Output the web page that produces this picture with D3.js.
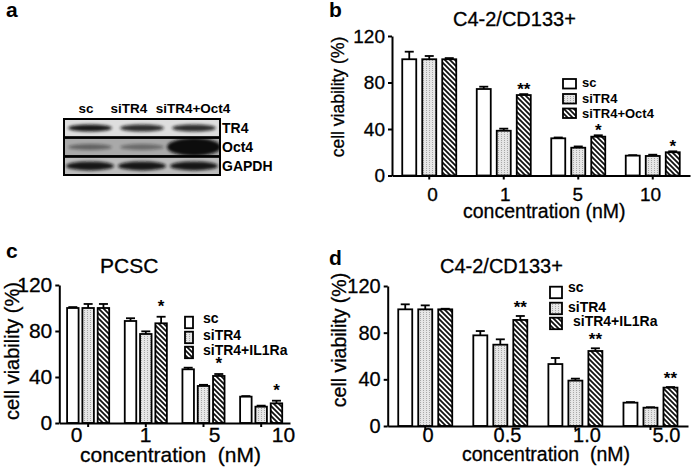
<!DOCTYPE html>
<html lang="en">
<head>
<meta charset="UTF-8">
<title>TR4 knockdown - cell viability</title>
<script src="https://d3js.org/d3.v7.min.js"></script>
<style>
  body { margin: 0; background: #fff; }
  svg { display: block; font-family: Arial, "Liberation Sans", sans-serif; }
  text { fill: #000; stroke: #000; stroke-width: 0.3; }
  .bold { font-weight: bold; stroke-width: 0; }
</style>
</head>
<body>
<svg width="693" height="475"></svg>
<script>
// ---- data ----
var groupsB = ["sc", "siTR4", "siTR4+Oct4"];
var groupsCD = ["sc", "siTR4", "siTR4+IL1Ra"];
var concBC = ["0", "1", "5", "10"];
var concD = ["0", "0.5", "1.0", "5.0"];
var yTicks = [0, 40, 80, 120];

// b: C4-2/CD133+
var bSc = [100, 74.4, 32.0, 17.1];
var bScErr = [6.5, 2.0, 0.7, 0.4];
var bSiTR4 = [100, 38.5, 23.9, 16.8];
var bSiTR4Err = [2.8, 1.8, 1.1, 1.1];
var bOct4 = [100, 69.2, 33.4, 20.0];
var bOct4Err = [1.0, 0.8, 1.2, 0.8];
var bStars = ["", "**", "*", "*"];

// c: PCSC
var cSc = [100, 88.7, 46.7, 22.9];
var cScErr = [0.8, 2.4, 1.4, 0.5];
var cSiTR4 = [100, 77.4, 32.2, 14.2];
var cSiTR4Err = [3.5, 2.3, 1.0, 0.9];
var cIL1Ra = [100, 86.7, 40.9, 17.1];
var cIL1RaErr = [3.5, 5.7, 1.7, 2.3];
var cStars = ["", "*", "*", "*"];

// d: C4-2/CD133+
var dSc = [100, 77.7, 53.1, 20.0];
var dScErr = [4.3, 3.7, 5.2, 0.5];
var dSiTR4 = [100, 69.7, 38.9, 15.7];
var dSiTR4Err = [3.4, 4.6, 1.7, 0.4];
var dIL1Ra = [100, 90.9, 64.3, 32.9];
var dIL1RaErr = [0.5, 3.4, 2.3, 0.5];
var dStars = ["", "**", "**", "**"];

// a: western blot, relative band strength per lane
var blotLanes = ["sc", "siTR4", "siTR4+Oct4"];
var blotRows = ["TR4", "Oct4", "GAPDH"];
var tr4Band = [0.95, 0.85, 0.85];
var oct4Band = [0.45, 0.4, 1.0];
var gapdhBand = [0.95, 0.95, 0.95];

var svg = d3.select("svg");
var defs = svg.append("defs");

// hatch for the rescue group
var hatch = defs.append("pattern").attr("id", "hatch")
    .attr("patternUnits", "userSpaceOnUse").attr("width", 5).attr("height", 5);
hatch.append("rect").attr("width", 5).attr("height", 5).attr("fill", "#fff");
hatch.append("path").attr("d", "M-1,-1L6,6M-1,4L1,6M4,-1L6,1")
    .attr("stroke", "#111").attr("stroke-width", 1.8);

// stippled light gray for siTR4
var dots = defs.append("pattern").attr("id", "dots")
    .attr("patternUnits", "userSpaceOnUse").attr("width", 3).attr("height", 2);
dots.append("rect").attr("width", 3).attr("height", 2).attr("fill", "#e6e6e6");
dots.append("rect").attr("width", 1).attr("height", 1).attr("fill", "#a8a8a8");

defs.append("filter").attr("id", "blur").attr("x", "-30%").attr("y", "-60%")
    .attr("width", "160%").attr("height", "220%")
    .append("feGaussianBlur").attr("stdDeviation", 1.8);

var fills = ["#fff", "url(#dots)", "url(#hatch)"];

function drawPanel(p) {
  var g = svg.append("g");
  var x = d3.scaleBand().domain(p.conc).range([p.x0, p.x1]);
  var y = d3.scaleLinear().domain([0, 120]).range([p.y0, p.y1]);
  var inner = d3.scaleBand().domain(p.groups).range([-1.5 * p.step, 1.5 * p.step]);
  var bw = p.barW;

  var rows = [];
  p.conc.forEach(function(c, i) {
    p.groups.forEach(function(grp, j) {
      rows.push({ c: c, j: j, grp: grp, v: p.values[j][i], e: p.errs[j][i],
                  star: j === 2 ? p.stars[i] : "" });
    });
  });
  function cx(d) { return x(d.c) + x.bandwidth() / 2 + inner(d.grp) + inner.bandwidth() / 2; }

  // error bars (upper only)
  var eb = g.selectAll(".err").data(rows).enter().append("g")
      .attr("stroke", "#000").attr("stroke-width", 1.8);
  eb.append("line").attr("x1", cx).attr("x2", cx)
      .attr("y1", function(d) { return y(d.v); })
      .attr("y2", function(d) { return y(d.v + d.e); });
  eb.append("line")
      .attr("x1", function(d) { return cx(d) - 4.5; })
      .attr("x2", function(d) { return cx(d) + 4.5; })
      .attr("y1", function(d) { return y(d.v + d.e); })
      .attr("y2", function(d) { return y(d.v + d.e); });

  g.selectAll(".bar").data(rows).enter().append("rect")
      .attr("x", function(d) { return cx(d) - bw / 2; })
      .attr("y", function(d) { return y(d.v); })
      .attr("width", bw)
      .attr("height", function(d) { return y(0) - y(d.v); })
      .attr("fill", function(d) { return fills[d.j]; })
      .attr("stroke", "#000").attr("stroke-width", 1.8);

  g.selectAll(".star").data(rows.filter(function(d) { return d.star; })).enter()
      .append("text").attr("class", "bold")
      .attr("x", cx)
      .attr("y", function(d) { return y(d.v + d.e) - p.starGap; })
      .attr("text-anchor", "middle").attr("font-size", 17)
      .text(function(d) { return d.star; });

  // axes
  var ya = g.append("g").attr("transform", "translate(" + p.x0 + ",0)")
      .call(d3.axisLeft(y).tickValues(yTicks).tickSize(4).tickSizeOuter(0).tickPadding(p.yPad));
  var xa = g.append("g").attr("transform", "translate(0," + p.y0 + ")")
      .call(d3.axisBottom(x).tickSize(4).tickSizeOuter(0).tickFormat(""));
  var lab = d3.scalePoint().domain(p.conc).range(p.labRange);
  var xl = g.append("g").attr("transform", "translate(0," + p.y0 + ")")
      .call(d3.axisBottom(lab).tickSize(0).tickPadding(p.xPad));
  xl.select(".domain").remove();
  [ya, xa, xl].forEach(function(a) {
    a.attr("font-family", null).attr("font-size", p.tickFont);
    a.selectAll("path, line").attr("stroke", "#000").attr("stroke-width", 2);
    a.selectAll("text").attr("fill", "#000");
  });

  // titles & labels
  g.append("text").attr("x", p.titleX).attr("y", p.titleY)
      .attr("font-size", p.titleFont).text(p.title);
  g.append("text").attr("x", p.xLabX).attr("y", p.xLabY)
      .attr("font-size", p.labFont).attr("xml:space", "preserve").text(p.xLab);
  g.append("text").attr("transform", "translate(" + p.yLabX + "," + p.yLabY + ") rotate(-90)")
      .attr("text-anchor", "middle").attr("font-size", p.yLabFont).text("cell viability (%)");
  g.append("text").attr("class", "bold").attr("x", p.letterX).attr("y", p.letterY)
      .attr("font-size", 21).text(p.letter);

  // legend
  var lg = g.selectAll(".leg").data(p.groups).enter().append("g");
  lg.append("rect")
      .attr("x", p.legX).attr("y", function(d, i) { return p.legY[i]; })
      .attr("width", p.legW).attr("height", p.legH)
      .attr("fill", function(d, i) { return fills[i]; })
      .attr("stroke", "#000").attr("stroke-width", 1.8);
  lg.append("text").attr("class", "bold")
      .attr("x", function(d, i) { return p.legTX[i]; })
      .attr("y", function(d, i) { return p.legTY[i]; })
      .attr("font-size", p.legFont).text(function(d) { return d; });
}

drawPanel({
  letter: "b", letterX: 329, letterY: 17,
  conc: concBC, groups: groupsB,
  values: [bSc, bSiTR4, bOct4], errs: [bScErr, bSiTR4Err, bOct4Err], stars: bStars,
  x0: 392, x1: 690, y0: 175.5, y1: 36, step: 20, barW: 14, starGap: -1,
  yPad: 3, xPad: 12, tickFont: 19, labRange: [432, 650],
  title: "C4-2/CD133+", titleX: 453, titleY: 26, titleFont: 20,
  xLab: "concentration (nM)", xLabX: 463, xLabY: 218, labFont: 19.5,
  yLabX: 344, yLabY: 97, yLabFont: 17.5,
  legX: 563, legY: [79, 94, 108.5], legW: 13, legH: 9.5,
  legTX: [582, 582, 582], legTY: [87, 103, 118], legFont: 13
});

drawPanel({
  letter: "c", letterX: 6, letterY: 258,
  conc: concBC, groups: groupsCD,
  values: [cSc, cSiTR4, cIL1Ra], errs: [cScErr, cSiTR4Err, cIL1RaErr], stars: cStars,
  x0: 59.3, x1: 290, y0: 423, y1: 285, step: 15.3, barW: 11.5, starGap: 5,
  yPad: 3, xPad: 4, tickFont: 21, labRange: [76, 283],
  title: "PCSC", titleX: 100, titleY: 273, titleFont: 21,
  xLab: "concentration  (nM)", xLabX: 80, xLabY: 462, labFont: 21,
  yLabX: 19, yLabY: 351, yLabFont: 20,
  legX: 185, legY: [316.7, 331.7, 346.7], legW: 8, legH: 11.5,
  legTX: [203, 203, 203], legTY: [323, 340, 355], legFont: 14
});

drawPanel({
  letter: "d", letterX: 329, letterY: 265,
  conc: concD, groups: groupsCD,
  values: [dSc, dSiTR4, dIL1Ra], errs: [dScErr, dSiTR4Err, dIL1RaErr], stars: dStars,
  x0: 387.7, x1: 688, y0: 426, y1: 286, step: 20, barW: 14, starGap: 3,
  yPad: 3, xPad: 2, tickFont: 20, labRange: [427.5, 666],
  title: "C4-2/CD133+", titleX: 440, titleY: 273, titleFont: 20,
  xLab: "concentration  (nM)", xLabX: 462, xLabY: 461, labFont: 19.5,
  yLabX: 346, yLabY: 340, yLabFont: 19.5,
  legX: 550, legY: [286.7, 302.7, 317.7], legW: 12, legH: 11.5,
  legTX: [568, 568, 573], legTY: [292, 311.7, 326], legFont: 14
});

// ---- panel a: western blot ----
var ga = svg.append("g");
ga.append("text").attr("class", "bold").attr("x", 6).attr("y", 17)
    .attr("font-size", 21).text("a");
var lane = d3.scaleBand().domain(blotLanes).range([64, 220]);
var laneLabelShift = [-4, -13, -1];
var rowY = d3.scaleBand().domain(blotRows).range([119, 175]).paddingInner(0.04);
var rowBg = ["#dedede", "#a9a9a9", "#bdbdbd"];
var rowStrength = [tr4Band, oct4Band, gapdhBand];
var bandW = [44, 44, 48], bandH = [7, 6, 9];

ga.selectAll(".lanelab").data(blotLanes).enter().append("text").attr("class", "bold")
    .attr("x", function(d, i) { return lane(d) + lane.bandwidth() / 2 + laneLabelShift[i]; })
    .attr("y", 113).attr("text-anchor", "middle").attr("font-size", 13.5)
    .text(function(d) { return d; });

blotRows.forEach(function(r, ri) {
  var y0 = rowY(r), h = rowY.bandwidth();
  var clipId = "clip" + ri;
  defs.append("clipPath").attr("id", clipId).append("rect")
      .attr("x", 64).attr("y", y0).attr("width", 156).attr("height", h);
  var rg = ga.append("g").attr("clip-path", "url(#" + clipId + ")");
  rg.append("rect").attr("x", 64).attr("y", y0).attr("width", 156).attr("height", h)
      .attr("fill", rowBg[ri]);
  rg.selectAll("ellipse").data(blotLanes).enter().append("ellipse")
      .attr("cx", function(d) { return lane(d) + lane.bandwidth() / 2; })
      .attr("cy", y0 + h / 2)
      .attr("rx", function(d, i) { return (r === "Oct4" && i === 2) ? 27 : bandW[ri] / 2; })
      .attr("ry", function(d, i) { return (r === "Oct4" && i === 2) ? 9 : bandH[ri] / 2; })
      .attr("fill", "#111")
      .attr("opacity", function(d, i) { return rowStrength[ri][i]; })
      .attr("filter", "url(#blur)");
  ga.append("rect").attr("x", 64).attr("y", y0).attr("width", 156).attr("height", h)
      .attr("fill", "none").attr("stroke", "#000").attr("stroke-width", 2);
  ga.append("text").attr("class", "bold").attr("x", 222)
      .attr("y", y0 + h / 2 + 5).attr("font-size", 14).text(r);
});
</script>
</body>
</html>
